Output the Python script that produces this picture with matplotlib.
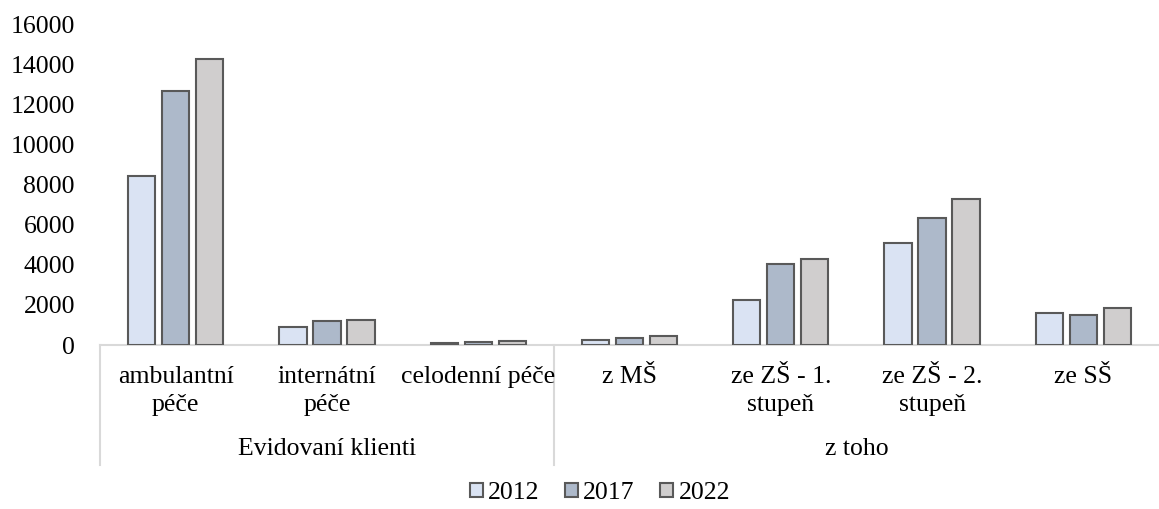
import matplotlib.pyplot as plt
import numpy as np
from matplotlib.lines import Line2D

plt.rcParams['font.family'] = ['Liberation Serif', 'DejaVu Serif']

categories = ['ambulantní\npéče', 'internátní\npéče', 'celodenní péče',
              'z MŠ', 'ze ZŠ - 1.\nstupeň', 'ze ZŠ - 2.\nstupeň', 'ze SŠ']
groups = ['Evidovaní klienti', 'z toho']
group_sizes = [3, 4]
years = ['2012', '2017', '2022']
v2012 = [8440, 880, 100, 250, 2250, 5090, 1600]
v2017 = [12660, 1210, 160, 370, 4030, 6350, 1510]
v2022 = [14300, 1230, 220, 460, 4290, 7290, 1850]
colors = ['#dae3f3', '#adb9ca', '#d0cece']
fs = 18.5

W, H = 1159, 509
fig = plt.figure(figsize=(W / 100, H / 100), dpi=100)
ax_left, ax_right, ax_top, ax_bottom = 100, 1159, 24.5, 345
ax = fig.add_axes([ax_left / W, 1 - ax_bottom / H,
                   (ax_right - ax_left) / W, (ax_bottom - ax_top) / H])

x = np.arange(len(categories))
step = 0.225
width = 0.18
bars = []
for i, (vals, c, yr) in enumerate(zip([v2012, v2017, v2022], colors, years)):
    b = ax.bar(x + (i - 1) * step, vals, width, color=c, edgecolor='#595959',
               linewidth=1.5, label=yr, zorder=3)
    bars.append(b)

ax.set_xlim(-0.5, len(categories) - 0.5)
ax.set_ylim(0, 16000)
ax.set_yticks(range(0, 16001, 2000))
ax.tick_params(axis='y', length=0, pad=18, labelsize=fs)
ax.set_xticks([])
for s in ['top', 'right', 'left']:
    ax.spines[s].set_visible(False)
ax.spines['bottom'].set_color('#d9d9d9')
ax.spines['bottom'].set_linewidth(1.5)

ax_h = ax_bottom - ax_top
def ay(ypix):
    return (ax_bottom - ypix) / ax_h

tr = ax.get_xaxis_transform()
for xi, lab in zip(x, categories):
    ax.text(xi, ay(366), lab, transform=tr, ha='center', va='top',
            fontsize=fs, linespacing=1.35)

# group labels and separators below the axis
start = 0
edges = [-0.5]
for g, n in zip(groups, group_sizes):
    mid = start + (n - 1) / 2
    ax.text(mid, ay(449), g, transform=tr, ha='center', va='center', fontsize=fs)
    start += n
    edges.append(start - 0.5)
for e in edges[:-1]:
    ax.add_line(Line2D([e, e], [0, ay(465)], transform=tr, color='#d9d9d9',
                       linewidth=1.5, clip_on=False))

fig.legend(handles=bars, labels=years, loc='center', ncol=3, frameon=False,
           bbox_to_anchor=(600 / W, 1 - 493 / H), fontsize=fs,
           handlelength=0.5, handleheight=0.5, handletextpad=0.2,
           columnspacing=1.0)

fig.savefig('out.png', dpi=100)
